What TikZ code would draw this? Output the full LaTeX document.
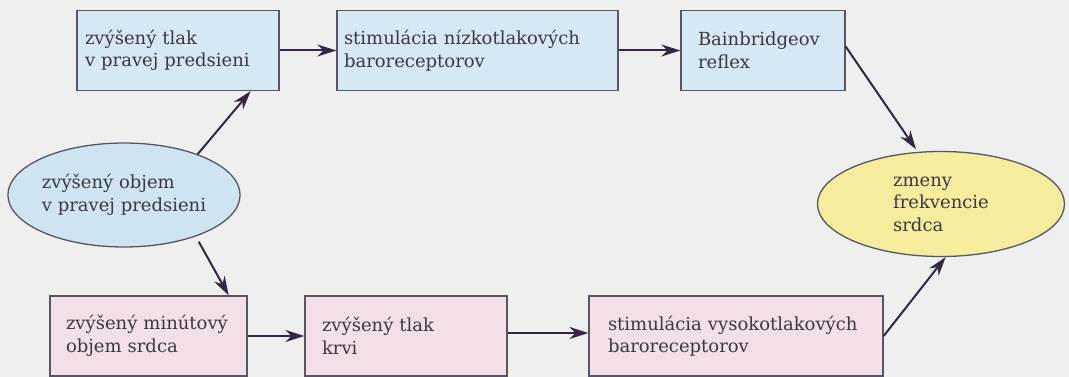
\documentclass[tikz,border=0pt]{standalone}
\usepackage{fontspec}
\setmainfont{DejaVu Serif}
\usetikzlibrary{positioning,arrows.meta,calc,shapes.geometric}

\definecolor{pozadie}{RGB}{240,239,239}
\definecolor{modra}{RGB}{214,232,243}
\definecolor{modraov}{RGB}{206,228,241}
\definecolor{ruzova}{RGB}{242,223,233}
\definecolor{zlta}{RGB}{246,236,158}
\definecolor{okraj}{RGB}{88,86,98}
\definecolor{sipka}{RGB}{52,38,68}
\definecolor{pismo}{RGB}{60,56,64}

\tikzset{
  blok/.style={draw=okraj, line width=1.3pt, rectangle, align=left, text=pismo,
    minimum height=80pt, font=\fontsize{18}{22.5}\selectfont},
  oval/.style={draw=okraj, line width=1.3pt, ellipse, inner sep=0pt, text=pismo,
    align=left, font=\fontsize{18}{22.5}\selectfont},
  sip/.style={draw=sipka, line width=2pt, -{Stealth[length=19pt,width=12pt]}}
}

\begin{document}
\begin{tikzpicture}[x=1pt, y=-1pt]
\useasboundingbox (0,0) rectangle (1069,377);
\fill[pozadie] (0,0) rectangle (1069,377);

% horny rad
\node[blok, fill=modra, inner xsep=8pt, text width=186pt] (tlakpred) at (178,50.5)
  {zvýšený tlak\\v pravej predsieni};
\node[blok, fill=modra, inner xsep=7pt, text width=267pt] (nizko) at (477.5,50.5)
  {stimulácia nízkotlakových\\baroreceptorov};
\node[blok, fill=modra, inner xsep=17pt, text width=130pt] (bainb) at (763,50.5)
  {Bainbridgeov\\reflex};

% elipsy
\node[oval, fill=modraov, minimum width=232pt, minimum height=104pt] (objem) at (124,195)
  {zvýšený objem\\v pravej predsieni};
\node[oval, fill=zlta, minimum width=247pt, minimum height=105pt] (frekv) at (941,204)
  {zmeny\\frekvencie\\srdca};

% dolny rad
\node[blok, fill=ruzova, inner xsep=16pt, text width=165pt] (minutovy) at (148.5,336)
  {zvýšený minútový\\objem srdca};
\node[blok, fill=ruzova, inner xsep=17pt, text width=168pt] (tlakkrvi) at (406,336)
  {zvýšený tlak\\krvi};
\node[blok, fill=ruzova, inner xsep=19pt, text width=256pt] (vysoko) at (736,336)
  {stimulácia vysokotlakových\\baroreceptorov};

% sipky
\draw[sip] (tlakpred) -- (nizko);
\draw[sip] (nizko) -- (bainb);
\draw[sip, shorten >=3pt] ($(bainb.east)+(0,-4)$) -- (frekv.114);
\draw[sip] (objem.29) -- ($(tlakpred.south east)+(-29,0)$);
\draw[sip, shorten <=6pt] (objem.-30) -- ($(minutovy.north east)+(-19,0)$);
\draw[sip] (minutovy) -- (tlakkrvi);
\draw[sip] ($(tlakkrvi.east)+(0,-3)$) -- ($(vysoko.west)+(0,-3)$);
\draw[sip] (vysoko.east) -- (frekv.275);
\end{tikzpicture}
\end{document}
